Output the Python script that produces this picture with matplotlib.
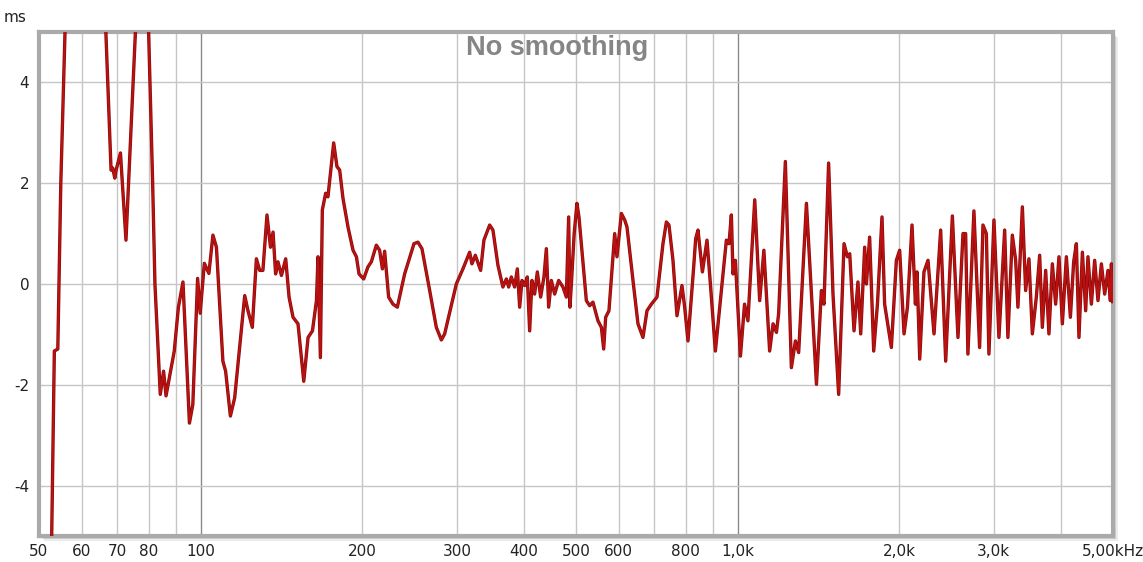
import numpy as np
import matplotlib
matplotlib.use("agg")
import matplotlib.pyplot as plt
from matplotlib.patches import Rectangle

# Group delay, no smoothing (frequency in Hz, delay in ms)
FREQ_LOW = [52.7, 53.4, 54.2, 54.9, 55.9, 61.0, 66.6, 68.1, 68.6, 69.2,
	69.6, 70.9, 72.6, 75.6, 77.6, 80.0, 81.4, 82.2, 84.1, 85.3,
	86.2, 89.3, 90.9, 92.7, 95.3, 96.7, 98.7, 99.8, 101.6, 103.6,
	105.4, 107.0, 110.0, 111.3, 113.6, 115.7, 120.8, 122.5, 124.8, 127.0,
	128.8, 130.6, 132.9, 134.9, 136.4, 137.9, 139.3, 141.4, 144.0, 146.1,
	148.6, 151.8, 155.6, 158.5, 161.5, 164.3, 165.4, 167.1, 168.5, 170.9,
	172.6, 176.9, 179.4, 181.5, 184.1, 188.1, 192.2, 195.0, 197.2]
DELAY_LOW = [-5.6, -1.33, -1.29, 2.0, 5.0, 8.0, 5.0, 2.26, 2.30, 2.10,
	2.26, 2.60, 0.87, 5.0, 6.5, 5.0, 2.0, 0.0, -2.19, -1.73,
	-2.22, -1.33, -0.46, 0.04, -2.76, -2.39, 0.11, -0.58, 0.41, 0.21,
	0.97, 0.73, -1.53, -1.73, -2.62, -2.26, -0.23, -0.53, -0.86, 0.50,
	0.27, 0.27, 1.37, 0.73, 1.03, 0.20, 0.44, 0.17, 0.50, -0.26,
	-0.66, -0.79, -1.93, -1.06, -0.93, -0.33, 0.54, -1.46, 1.47, 1.80,
	1.73, 2.80, 2.33, 2.26, 1.70, 1.13, 0.67, 0.54, 0.20]

FREQ_MID = [201.2, 204.9, 207.9, 212.4, 215.4, 218.0, 220.1, 223.9, 228.1, 232.4,
	239.8, 249.6, 253.9, 258.3, 267.0, 274.7, 280.7, 284.7, 299.3, 307.9,
	316.9, 320.0, 324.7, 332.2, 336.9, 345.3, 350.2, 357.8, 365.5, 370.9,
	374.6, 378.9, 384.3, 388.8, 392.7, 396.6, 401.2, 405.8, 409.9, 413.9,
	418.7, 423.6, 429.7, 435.8, 440.3, 444.7, 449.8, 456.3, 464.2, 472.8,
	479.7, 484.5, 487.2, 490.8, 496.1, 502.0, 506.4, 522.7, 530.2, 537.7,
	549.4, 557.5, 563.0, 567.8, 575.9, 590.2, 596.0, 607.4, 616.1, 622.2,
	638.4, 652.2, 666.3, 677.9, 690.8, 707.6, 726.0, 736.7, 744.9, 757.8,
	770.9, 787.6, 796.8, 808.2, 828.2, 835.3, 843.6, 859.7, 876.8, 889.7,
	908.9, 932.6, 952.8, 963.5, 973.4, 980.2, 990.2]
DELAY_MID = [0.10, 0.34, 0.44, 0.77, 0.67, 0.30, 0.65, -0.26, -0.40, -0.46,
	0.20, 0.80, 0.83, 0.70, -0.13, -0.86, -1.11, -0.99, 0.0, 0.30,
	0.63, 0.40, 0.57, 0.27, 0.87, 1.17, 1.07, 0.37, -0.06, 0.10,
	-0.06, 0.14, -0.06, 0.30, -0.46, 0.07, -0.03, 0.14, -0.93, 0.07,
	-0.20, 0.24, -0.26, 0.14, 0.70, -0.46, 0.07, -0.20, 0.07, -0.06,
	-0.26, 1.33, -0.46, 0.10, 1.00, 1.60, 1.33, -0.33, -0.43, -0.36,
	-0.73, -0.86, -1.29, -0.66, -0.53, 1.00, 0.54, 1.40, 1.27, 1.13,
	0.07, -0.79, -1.06, -0.53, -0.40, -0.26, 0.80, 1.23, 1.17, 0.47,
	-0.63, -0.03, -0.46, -1.13, 0.34, 0.90, 1.07, 0.24, 0.87, 0.0,
	-1.33, -0.13, 0.87, 0.80, 1.37, 0.20, 0.47]

FREQ_HIGH = [1012, 1030, 1045, 1076, 1099, 1119, 1147, 1164, 1181, 1192,
	1227, 1259, 1281, 1299, 1343, 1402, 1432, 1448, 1477, 1505,
	1542, 1578, 1601, 1617, 1647, 1675, 1695, 1724, 1737, 1761,
	1792, 1821, 1857, 1878, 1933, 1975, 2003, 2041, 2071, 2112,
	2143, 2158, 2183, 2223, 2262, 2321, 2388, 2440, 2511, 2572,
	2628, 2658, 2684, 2754, 2822, 2863, 2905, 2937, 3001, 3066,
	3142, 3186, 3247, 3294, 3326, 3390, 3438, 3487, 3538, 3599,
	3651, 3693, 3746, 3799, 3855, 3910, 3966, 4024, 4094, 4165,
	4224, 4273, 4321, 4385, 4447, 4491, 4557, 4622, 4688, 4757,
	4825, 4894, 4944, 4966, 4995]
DELAY_HIGH = [-1.43, -0.40, -0.73, 1.67, -0.33, 0.67, -1.33, -0.79, -0.96, -0.59,
	2.43, -1.66, -1.13, -1.36, 1.60, -1.99, -0.13, -0.40, 2.40, -0.20,
	-2.19, 0.80, 0.54, 0.60, -0.93, 0.04, -0.99, 0.73, 0.0, 0.93,
	-1.33, -0.40, 1.33, -0.40, -1.26, 0.47, 0.67, -0.99, -0.46, 1.17,
	-0.40, 0.24, -1.49, 0.24, 0.47, -0.99, 1.07, -1.53, 1.35, -1.06,
	1.00, 1.00, -1.39, 1.45, -1.26, 1.17, 1.00, -1.39, 1.27, -1.06,
	1.07, -1.06, 0.97, 0.47, -0.46, 1.53, -0.13, 0.50, -0.99, -0.26,
	0.57, -0.86, 0.27, -0.99, 0.40, -0.40, 0.54, -0.79, 0.54, -0.66,
	0.44, 0.80, -1.06, 0.63, -0.53, 0.54, -0.40, 0.47, -0.33, 0.40,
	-0.20, 0.27, -0.33, 0.40, -0.35]

X_TICKS = [50, 60, 70, 80, 100, 200, 300, 400, 500, 600, 800, 1000, 2000, 3000, 5000]
X_LABELS = ["50", "60", "70", "80", "100", "200", "300", "400", "500", "600", "800",
	"1,0k", "2,0k", "3,0k", "5,00kHz"]
X_GRID = [60, 70, 80, 90, 200, 300, 400, 500, 600, 700, 800, 900, 2000, 3000, 4000]
X_GRID_MAJOR = [100, 1000]
Y_TICKS = [-4, -2, 0, 2, 4]

LINE_COLOR = "#bb1111"
GRID_COLOR = "#c6c6c6"
FRAME_COLOR = "#aaaaaa"

freqs = np.array(FREQ_LOW + FREQ_MID + FREQ_HIGH)
delay = np.array(DELAY_LOW + DELAY_MID + DELAY_HIGH)

fig = plt.figure(figsize=(11.43, 5.62), dpi=100)
ax = fig.add_axes([39 / 1143, 1 - 536 / 562, 1074 / 1143, 504 / 562])
ax.set_zorder(2)
ax.set_facecolor("white")

# soft drop shadow along the right and bottom of the frame
for off, alpha in [(5, 0.08), (3, 0.12)]:
	fig.patches.append(Rectangle(((39 + off) / 1143, (26 - off) / 562), 1074 / 1143, 504 / 562,
		transform=fig.transFigure, facecolor="#000000", alpha=alpha, edgecolor="none", zorder=0))

ax.set_xscale("log")
ax.set_xlim(50, 5000)
ax.set_ylim(-5, 5)

for f in X_GRID:
	ax.axvline(f, color=GRID_COLOR, lw=1.0, zorder=1)
for f in X_GRID_MAJOR:
	ax.axvline(f, color="#8a8a8a", lw=1.0, zorder=1)
for v in Y_TICKS:
	ax.axhline(v, color=GRID_COLOR, lw=1.0, zorder=1)

ax.plot(freqs, delay, color="#8a0c0c", lw=2.4, zorder=3, solid_joinstyle="round")
ax.plot(freqs, delay, color=LINE_COLOR, lw=1.4, zorder=4, solid_joinstyle="round")

ax.xaxis.set_minor_locator(matplotlib.ticker.NullLocator())
ax.set_xticks(X_TICKS, X_LABELS)
ax.set_yticks(Y_TICKS, [str(v) for v in Y_TICKS])
ax.tick_params(length=0, labelsize=11, colors="#222222", pad=6)
ax.tick_params(axis="y", pad=7)

for sp in ax.spines.values():
	sp.set_color(FRAME_COLOR)
	sp.set_linewidth(3)

ax.text(0.482, 0.968, "No smoothing", transform=ax.transAxes, ha="center", va="center",
	fontsize=19.5, fontweight="bold", color="#858585", family=["Liberation Sans", "DejaVu Sans"])
fig.text(4 / 1143, 1 - 18 / 562, "ms", ha="left", va="center", fontsize=11, color="#222222")

plt.savefig("out.png", dpi=100, facecolor="white")
